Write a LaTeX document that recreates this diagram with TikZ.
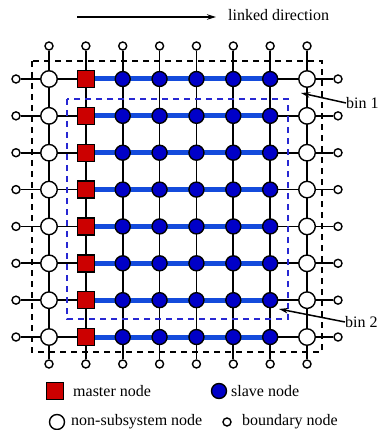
\documentclass[tikz,border=0pt]{standalone}
\usepackage{fontspec}
\setmainfont{Liberation Serif}
\usetikzlibrary{arrows.meta}
\pgfdeclarelayer{background}
\pgfsetlayers{background,main}
\definecolor{mred}{RGB}{204,0,0}
\definecolor{sblue}{RGB}{0,0,200}
\definecolor{lblue}{RGB}{20,75,220}
\definecolor{dblue}{RGB}{40,40,210}
\tikzset{
  gridline/.style={line width=1.7pt, black},
  linkline/.style={line width=5pt, lblue},
  master/.style={rectangle, draw=black, line width=1.4pt, fill=mred, minimum size=17pt, inner sep=0pt},
  slave/.style={circle, draw=black, line width=1.4pt, fill=sblue, minimum size=15pt, inner sep=0pt},
  nonsub/.style={circle, draw=black, line width=1.4pt, fill=white, minimum size=16.5pt, inner sep=0pt},
  bnd/.style={circle, draw=black, line width=1.4pt, fill=white, minimum size=8pt, inner sep=0pt},
  lbl/.style={font=\fontsize{16}{18}\selectfont, inner sep=0pt},
  binbox/.style={line width=1.3pt, dash pattern=on 6pt off 5pt},
  pointer/.style={line width=1.5pt, -{Stealth[length=9pt,width=5.5pt]}}
}
\begin{document}
\begin{tikzpicture}[x=1pt,y=-1pt]
\useasboundingbox (0,0) rectangle (382,430);
% grid nodes
\foreach \j in {0,...,7}{
  \pgfmathsetmacro{\yy}{79+36.86*\j}
  \node[bnd] (bl-\j) at (16,\yy) {};
  \node[bnd] (br-\j) at (338,\yy) {};
  \node[nonsub] (n-0-\j) at (49,\yy) {};
  \node[master] (n-1-\j) at ({49+36.86},\yy) {};
  \foreach \i in {2,...,6}{
    \node[slave] (n-\i-\j) at ({49+36.86*\i},\yy) {};
  }
  \node[nonsub] (n-7-\j) at ({49+36.86*7},\yy) {};
}
\foreach \i in {0,...,7}{
  \pgfmathsetmacro{\xx}{49+36.86*\i}
  \node[bnd] (bt-\i) at (\xx,46) {};
  \node[bnd] (bb-\i) at (\xx,364) {};
}
\begin{pgfonlayer}{background}
  \foreach \j in {0,...,7}{
    \draw[gridline] (bl-\j) -- (br-\j);
  }
  \foreach \i in {0,...,7}{
    \draw[gridline] (bt-\i) -- (bb-\i);
  }
  \foreach \j in {0,...,7}{
    \draw[linkline] (n-1-\j.center) -- (n-6-\j.center);
  }
  \draw[binbox, black] (32,61) rectangle (322,352);
  \draw[binbox, dblue] (67,99) rectangle (288,319);
\end{pgfonlayer}
% linked direction
\coordinate (ld-s) at (77,17);
\node[lbl, anchor=west] (ld) at (228,15) {linked direction};
\coordinate (ld-e) at (216,17);
\draw[pointer] (ld-s) -- (ld-e);
% bin labels
\node[lbl, anchor=west] (bin1) at (346,103) {bin 1};
\coordinate (bin1-t) at (301,93);
\draw[pointer] (bin1.west) -- (bin1-t);
\node[lbl, anchor=west] (bin2) at (345,322) {bin 2};
\coordinate (bin2-t) at (279,309);
\draw[pointer] (bin2.west) -- (bin2-t);
% legend
\node[master] (lg-m) at (55,391) {};
\node[lbl, anchor=west] (lg-mt) at (73,391) {master node};
\node[slave] (lg-s) at (219,391) {};
\node[lbl, anchor=west] (lg-st) at (231,391) {slave node};
\node[nonsub, minimum size=15pt] (lg-n) at (57,422) {};
\node[lbl, anchor=west] (lg-nt) at (71,422) {non-subsystem node};
\node[bnd] (lg-b) at (227,422) {};
\node[lbl, anchor=west] (lg-bt) at (242,422) {boundary node};
\end{tikzpicture}
\end{document}
